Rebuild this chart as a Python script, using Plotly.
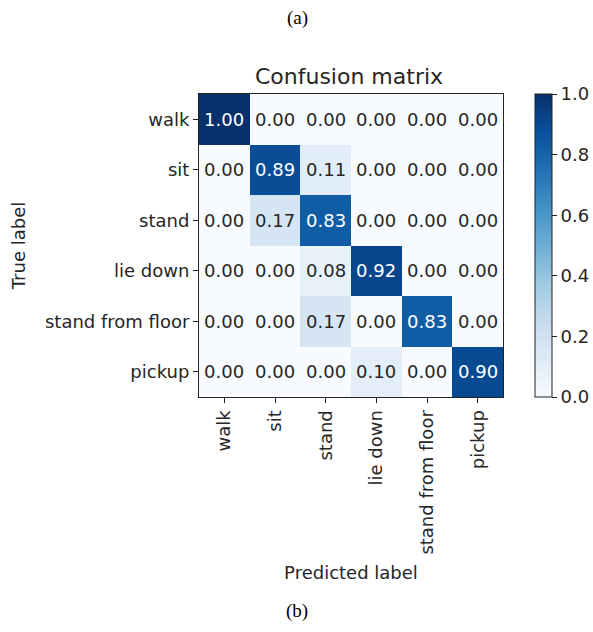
import plotly.graph_objects as go
import plotly.colors as pc

labels = ["walk", "sit", "stand", "lie down", "stand from floor", "pickup"]
matrix = [
    [1.00, 0.00, 0.00, 0.00, 0.00, 0.00],
    [0.00, 0.89, 0.11, 0.00, 0.00, 0.00],
    [0.00, 0.17, 0.83, 0.00, 0.00, 0.00],
    [0.00, 0.00, 0.08, 0.92, 0.00, 0.00],
    [0.00, 0.00, 0.17, 0.00, 0.83, 0.00],
    [0.00, 0.00, 0.00, 0.10, 0.00, 0.90],
]
cbar_ticks = [0.0, 0.2, 0.4, 0.6, 0.8, 1.0]

blues = pc.sequential.Blues
scale = [[i / (len(blues) - 1), c] for i, c in enumerate(blues)]

FONT = "DejaVu Sans"
FS = 18
TXT = "#262626"
W, H = 593, 632
L, R, T, B = 199, 503, 94, 397

fig = go.Figure()
fig.add_trace(go.Heatmap(
    z=matrix, x=labels, y=labels, colorscale=scale, zmin=0, zmax=1,
    xgap=0, ygap=0, hoverinfo="skip",
    colorbar=dict(
        x=(535 - L) / (R - L), xanchor="left", xpad=0,
        y=0.5, yanchor="middle", ypad=0, len=1.0, lenmode="fraction",
        thickness=17, thicknessmode="pixels",
        outlinecolor="#222", outlinewidth=1,
        tickvals=cbar_ticks, ticktext=[f"{v:.1f}" for v in cbar_ticks],
        ticks="outside", ticklen=5, tickcolor="#222",
        tickfont=dict(family=FONT, size=FS, color=TXT),
    ),
))

thresh = max(max(r) for r in matrix) / 2
for i, row in enumerate(matrix):
    for j, v in enumerate(row):
        fig.add_annotation(
            x=labels[j], y=labels[i], xref="x", yref="y",
            text=f"{v:.2f}", showarrow=False,
            font=dict(family=FONT, size=FS, color="white" if v > thresh else TXT),
        )

for txt, py in (("(a)", 18), ("(b)", 611)):
    fig.add_annotation(text=txt, x=(297 - L) / (R - L), y=1 - (py - T) / (B - T),
                       xref="paper", yref="paper", xanchor="center", yanchor="middle",
                       showarrow=False,
                       font=dict(family="Liberation Serif", size=19, color="black"))

fig.update_layout(
    width=W, height=H,
    margin=dict(l=L, r=W - R, t=T, b=H - B, autoexpand=False),
    paper_bgcolor="white", plot_bgcolor="white",
    font=dict(family=FONT, color=TXT),
    title=dict(text="Confusion matrix", x=349 / W, xanchor="center",
               y=1 - 76 / H, yanchor="middle",
               font=dict(family=FONT, size=22, color=TXT)),
)
fig.update_xaxes(
    type="category", tickangle=-90, ticks="outside", ticklen=5, tickcolor="#222",
    showline=True, linecolor="#222", linewidth=1, mirror=True, showgrid=False,
    tickfont=dict(family=FONT, size=FS, color=TXT),
    title=dict(text="Predicted label", standoff=12, font=dict(family=FONT, size=FS, color=TXT)),
    automargin=False,
)
fig.update_yaxes(
    type="category", autorange="reversed", ticks="outside", ticklen=5, tickcolor="#222",
    showline=True, linecolor="#222", linewidth=1, mirror=True, showgrid=False,
    tickfont=dict(family=FONT, size=FS, color=TXT),
    title=dict(text="True label", standoff=14, font=dict(family=FONT, size=FS, color=TXT)),
    automargin=False,
)

fig.write_html("out.html")
